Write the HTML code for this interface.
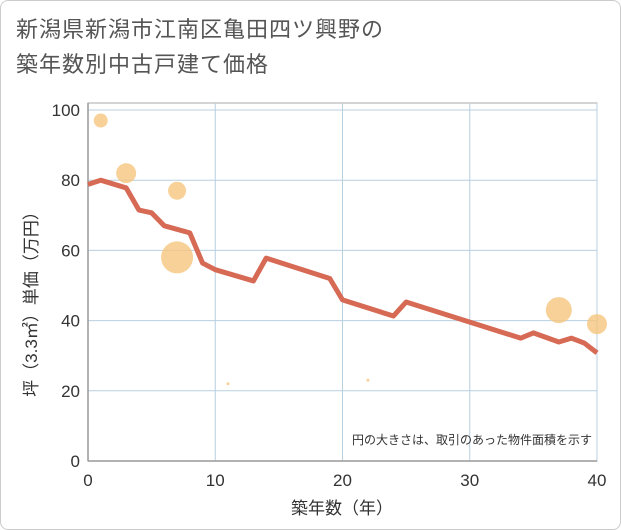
<!DOCTYPE html>
<html><head><meta charset="utf-8"><style>
body{margin:0;background:#fff;font-family:"Liberation Sans","Noto Sans CJK JP",sans-serif;}
#wrap{position:relative;width:619px;height:528px;border:1px solid #ccc;border-radius:8px;overflow:hidden;}
#title{position:absolute;left:15px;top:11px;font-size:22px;line-height:35px;color:#555;letter-spacing:1px;}
svg{position:absolute;left:-1px;top:-1px;}
</style></head><body>
<div id="wrap">
<div id="title">新潟県新潟市江南区亀田四ツ興野の<br>築年数別中古戸建て価格</div>
<svg id="chart" width="621" height="530"></svg>
</div>
<script>
const lineYears=[0,1,3,4,5,6,8,9,10,13,14,19,20,24,25,34,35,37,38,39,40];
const linePrices=[78.8,80,77.8,71.5,70.7,67,65,56.4,54.5,51.3,57.8,52,45.9,41.3,45.3,35,36.5,33.9,35,33.6,30.8];
const bubbleYears=[1,3,7,7,11,22,37,40];
const bubblePrices=[97,82,77,58,22,23,43,39];
const bubbleSizes=[7,10,9,16,1.5,1.5,13,10];
const xTicks=[0,10,20,30,40];
const yTicks=[0,20,40,60,80,100];
const NS="http://www.w3.org/2000/svg";
const svg=document.getElementById('chart');
const X=v=>88+v*(597-88)/40;
const Y=v=>461-v*3.51;
function mk(t,a){const e=document.createElementNS(NS,t);for(const k in a)e.setAttribute(k,a[k]);svg.appendChild(e);return e;}
const frame=mk('rect',{x:88,y:103,width:509,height:358,fill:'none',stroke:'#aaa','stroke-width':1});


xTicks.forEach(t=>{
 const l=mk('line',{x1:X(t),x2:X(t),y1:103,y2:461,stroke:'#b8cfe0','stroke-width':1});
 
 
 const tx=mk('text',{x:X(t),y:486,'text-anchor':'middle','font-size':17,fill:'#333'});
 tx.textContent=t;
 
 
});
yTicks.forEach(t=>{
 const l=mk('line',{x1:88,x2:597,y1:Y(t),y2:Y(t),stroke:'#b8cfe0','stroke-width':1});
 
 
 const tx=mk('text',{x:80,y:Y(t)+6,'text-anchor':'end','font-size':17,fill:'#333'});
 tx.textContent=t;
 
 
});
const ax=mk('line',{x1:88,x2:88,y1:103,y2:461,stroke:'#999','stroke-width':1.5});


const ax2=mk('line',{x1:88,x2:597,y1:461,y2:461,stroke:'#999','stroke-width':1.5});


bubbleYears.forEach((v,i)=>{
 const c=mk('circle',{cx:X(v),cy:Y(bubblePrices[i]),r:bubbleSizes[i],fill:'#f5c67e','fill-opacity':0.8});
 
 
});
const pl=mk('polyline',{points:lineYears.map((v,i)=>X(v)+','+Y(linePrices[i])).join(' '),fill:'none',stroke:'#d66a55','stroke-width':5,'stroke-linejoin':'round'});


const note=mk('text',{x:592,y:444,'text-anchor':'end','font-size':12,fill:'#333'});
note.textContent='円の大きさは、取引のあった物件面積を示す';


const xt=mk('text',{x:342,y:514,'text-anchor':'middle','font-size':17,fill:'#333'});
xt.textContent='築年数（年）';


const yt=mk('text',{x:0,y:0,'text-anchor':'middle','font-size':17,fill:'#333',transform:'translate(37,300) rotate(-90)'});
yt.textContent='坪（3.3㎡）単価（万円）';


</script>
</body></html>
